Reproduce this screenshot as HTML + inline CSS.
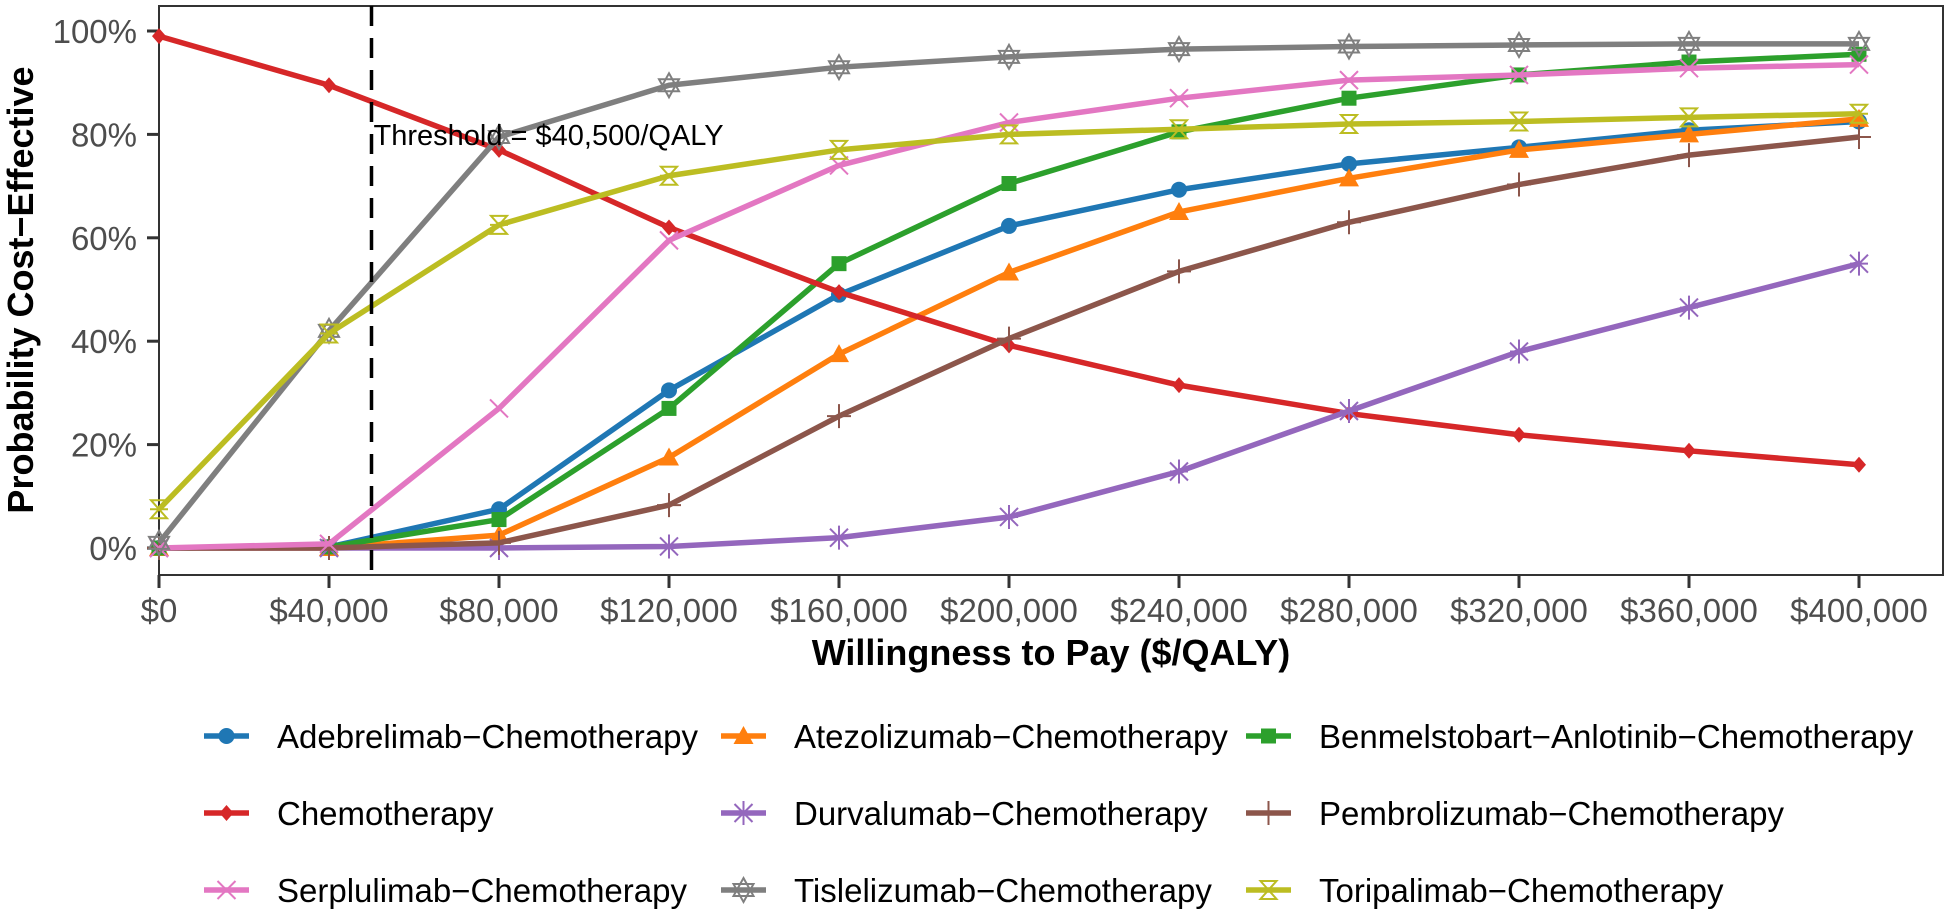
<!DOCTYPE html>
<html><head><meta charset="utf-8"><style>
html,body{margin:0;padding:0;background:#fff}
svg{display:block;font-family:"Liberation Sans",Arial,sans-serif}
</style></head><body>
<svg id="chart" width="1949" height="915" viewBox="0 0 1949 915" xmlns="http://www.w3.org/2000/svg"></svg>
<script>
const wtpValues = [0,40000,80000,120000,160000,200000,240000,280000,320000,360000,400000];
const seriesNames = ["Adebrelimab\u2212Chemotherapy","Atezolizumab\u2212Chemotherapy","Benmelstobart\u2212Anlotinib\u2212Chemotherapy","Chemotherapy","Durvalumab\u2212Chemotherapy","Pembrolizumab\u2212Chemotherapy","Serplulimab\u2212Chemotherapy","Tislelizumab\u2212Chemotherapy","Toripalimab\u2212Chemotherapy"];
const adebrelimab = [0,0.2,7.5,30.5,49,62.3,69.3,74.3,77.5,80.8,82.5];
const atezolizumab = [0,0,2.5,17.5,37.5,53.3,65,71.5,77,80,83];
const benmelstobart = [0,0.2,5.5,27,55,70.5,80.5,87,91.5,94,95.5];
const chemotherapy = [99,89.5,77,62,49.5,39.2,31.5,26,21.9,18.8,16.1];
const durvalumab = [0,0,0,0.3,2,6,14.8,26.5,38,46.5,55];
const pembrolizumab = [0,0,1,8.3,25.5,40.5,53.5,63,70.3,76,79.5];
const serplulimab = [0,0.8,27,59.5,74,82.3,87,90.5,91.5,92.8,93.5];
const tislelizumab = [1,42,79.5,89.5,93,95,96.5,97,97.3,97.5,97.5];
const toripalimab = [7.5,41.5,62.5,72,77,80,81,82,82.5,83.3,84];
const xTickValues = [0,40000,80000,120000,160000,200000,240000,280000,320000,360000,400000];
const yTickValues = [0,20,40,60,80,100];
const thresholdValue = 50000;

const allSeries=[adebrelimab,atezolizumab,benmelstobart,chemotherapy,durvalumab,pembrolizumab,serplulimab,tislelizumab,toripalimab];
const colors=["#1f77b4","#ff7f0e","#2ca02c","#d62728","#9467bd","#8c564b","#e377c2","#7f7f7f","#bcbd22"];
const shapes=["circle","triangle","square","diamond","asterisk","plus","cross","star","hourglass"];
const NS="http://www.w3.org/2000/svg";
const svg=document.getElementById("chart");
const PL=159,PR=1943,PT=6,PB=575;
const X0=159,X1=1859,Y0=548,Y100=31;
function xs(v){return X0+(v-0)/(400000)*(X1-X0);}
function ys(v){return Y0+(v/100)*(Y100-Y0);}
function el(tag,attrs,parent){const e=document.createElementNS(NS,tag);for(const k in attrs)e.setAttribute(k,attrs[k]);(parent||svg).appendChild(e);return e;}
function fmt(v){return "$"+v.toLocaleString("en-US");}

const panel=el("rect",{x:PL,y:PT,width:PR-PL,height:PB-PT,fill:"#fff",stroke:"#333",'stroke-width':2});



yTickValues.forEach(v=>{
  const y=ys(v);
  const t=el("line",{x1:147,x2:PL,y1:y,y2:y,stroke:"#333",'stroke-width':3});
  
  
  const l=el("text",{x:137,y:y+12,'text-anchor':'end','font-size':33,fill:"#4d4d4d"});
  l.textContent=v+"%";
  
  
});
xTickValues.forEach(v=>{
  const x=xs(v);
  const t=el("line",{x1:x,x2:x,y1:PB,y2:PB+13,stroke:"#333",'stroke-width':3});
  
  
  const l=el("text",{x:x,y:622,'text-anchor':'middle','font-size':33,fill:"#4d4d4d"});
  l.textContent=fmt(v);
  
  
});

function marker(shape,x,y,c,g){
  const s=9;let m;
  if(shape==="circle") m=el("circle",{cx:x,cy:y,r:8,fill:c},g);
  else if(shape==="triangle") m=el("polygon",{points:`${x},${y-10} ${x-10},${y+8} ${x+10},${y+8}`,fill:c},g);
  else if(shape==="square") m=el("rect",{x:x-7.5,y:y-7.5,width:15,height:15,fill:c},g);
  else if(shape==="diamond") m=el("polygon",{points:`${x},${y-8} ${x+7},${y} ${x},${y+8} ${x-7},${y}`,fill:c},g);
  else if(shape==="asterisk") m=el("path",{d:`M${x-s},${y}H${x+s}M${x},${y-12}V${y+12}M${x-s},${y-s}L${x+s},${y+s}M${x-s},${y+s}L${x+s},${y-s}`,stroke:c,'stroke-width':2,fill:"none"},g);
  else if(shape==="plus") m=el("path",{d:`M${x-12},${y}H${x+12}M${x},${y-12}V${y+12}`,stroke:c,'stroke-width':2,fill:"none"},g);
  else if(shape==="cross") m=el("path",{d:`M${x-s},${y-s}L${x+s},${y+s}M${x-s},${y+s}L${x+s},${y-s}`,stroke:c,'stroke-width':2,fill:"none"},g);
  else if(shape==="star") m=el("path",{d:`M${x},${y-12}L${x+10},${y+6}H${x-10}ZM${x},${y+12}L${x+10},${y-6}H${x-10}Z`,stroke:c,'stroke-width':2,fill:"none"},g);
  else m=el("path",{d:`M${x-8},${y-9}H${x+8}L${x-8},${y+9}H${x+8}ZM${x-9},${y}H${x+9}`,stroke:c,'stroke-width':2,fill:"none"},g);
  return m;
}

allSeries.forEach((vals,i)=>{
  const g=el("g",{});
  
  
  const pts=vals.map((v,j)=>xs(wtpValues[j])+","+ys(v)).join(" ");
  const line=el("polyline",{points:pts,fill:"none",stroke:colors[i],'stroke-width':5.5,'stroke-linejoin':'round'},g);
  
  
  vals.forEach((v,j)=>{
    const m=marker(shapes[i],xs(wtpValues[j]),ys(v),colors[i],g);
    
    
  });
});

const tx=xs(thresholdValue);
const th=el("line",{x1:tx,x2:tx,y1:PT,y2:PB,stroke:"#000",'stroke-width':3.5,'stroke-dasharray':'20 12'});


const tt=el("text",{x:tx+2,y:145,'font-size':29,fill:"#000"});
tt.textContent="Threshold = $40,500/QALY";



const xt=el("text",{x:(PL+PR)/2,y:665,'text-anchor':'middle','font-size':36,'font-weight':'bold',fill:"#000"});
xt.textContent="Willingness to Pay ($/QALY)";


const yt=el("text",{x:0,y:0,'text-anchor':'middle','font-size':36,'font-weight':'bold',fill:"#000",transform:`translate(33,290) rotate(-90)`});
yt.textContent="Probability Cost\u2212Effective";



const colKey=[204,721,1246], colText=[277,794,1319], rowY=[736,813,890];
seriesNames.forEach((n,i)=>{
  const r=Math.floor(i/3),c=i%3;
  const g=el("g",{});
  
  
  el("line",{x1:colKey[c],x2:colKey[c]+45,y1:rowY[r],y2:rowY[r],stroke:colors[i],'stroke-width':5.5},g);
  marker(shapes[i],colKey[c]+22.5,rowY[r],colors[i],g);
  const t=el("text",{x:colText[c],y:rowY[r]+12,'font-size':33,fill:"#000"},g);
  t.textContent=n;
});
</script>
</body></html>
